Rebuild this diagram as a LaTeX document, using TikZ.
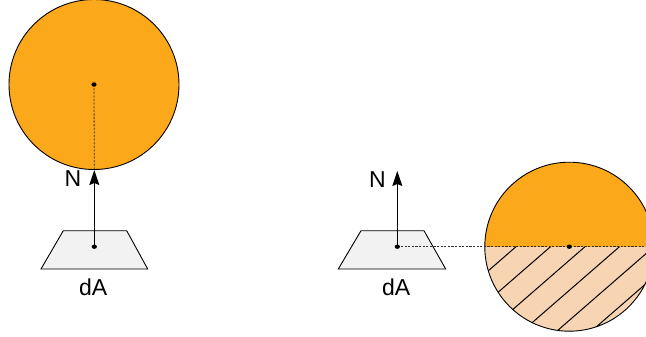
\documentclass[tikz,border=0pt]{standalone}
\usepackage{fontspec}
\setmainfont{Liberation Sans}
\usetikzlibrary{arrows.meta}
\definecolor{sunorange}{HTML}{FBA81A}
\definecolor{peach}{HTML}{F7D5B3}
\definecolor{tilegray}{HTML}{F2F2F2}
\definecolor{dashgray}{HTML}{333333}
\begin{document}
\begin{tikzpicture}[x=1pt,y=-1pt,line width=0.9pt,
  sphere/.style={draw=black,fill=sunorange},
  tile/.style={draw=black,fill=tilegray,line join=miter},
  dashline/.style={draw=dashgray,line width=0.8pt,dash pattern=on 2.2pt off 1.4pt},
  normal/.style={draw=black,line width=1pt,-{Stealth[length=15pt,width=10pt,inset=2pt]}},
  hatch/.style={draw=black,line width=1pt},
  lbl/.style={inner sep=0pt,font=\fontsize{23}{27}\selectfont},
  dotmark/.style={fill=black}]
\useasboundingbox (0,0) rectangle (646,337);
\fill[white] (0,0) rectangle (646,337);
% ---- left sphere and patch ----
\coordinate (c1) at (94,84.5);
\coordinate (p1) at (94.3,246.7);
\coordinate (t1) at (94.3,170);
\draw[sphere] (c1) circle[radius=85];
\draw[tile] (63.3,230.7) -- (126.7,230.7) -- (147.7,269) -- (41,269) -- cycle;
\draw[dashline] (c1) -- (t1);
\draw[normal] (p1) -- (t1);
\fill[dotmark] (c1) circle[x radius=2.6,y radius=2.2];
\fill[dotmark] (p1) circle[x radius=2.6,y radius=2.2];
\node[lbl] (N1) at (73,178.5) {N};
\node[lbl] (dA1) at (93.2,287.5) {dA};
% ---- right sphere and patch ----
\coordinate (c2) at (569.3,246.7);
\coordinate (p2) at (397.3,246.7);
\coordinate (t2) at (397.3,171);
\coordinate (e2) at (646,246.7);
\begin{scope}
  \clip (c2) circle[radius=84.5];
  \fill[peach] (480,246.7) rectangle (660,335);
  \fill[sunorange] (480,246.7) rectangle (660,158);
  \foreach \x in {516,550.5,585,619.5,654,688.5}{
    \draw[hatch] (\x,246.7) -- ++(-115,100);
  }
\end{scope}
\draw[black] (c2) circle[radius=84.5];
\draw[tile] (361,230.7) -- (424,230.7) -- (445.7,269) -- (338.3,269) -- cycle;
\draw[normal] (p2) -- (t2);
\draw[dashline] (p2) -- (e2);
\fill[dotmark] (p2) circle[x radius=2.6,y radius=2.2];
\fill[dotmark] (c2) circle[x radius=2.6,y radius=2.2];
\node[lbl] (N2) at (377.5,179.5) {N};
\node[lbl] (dA2) at (396.2,287.5) {dA};
\end{tikzpicture}
\end{document}
